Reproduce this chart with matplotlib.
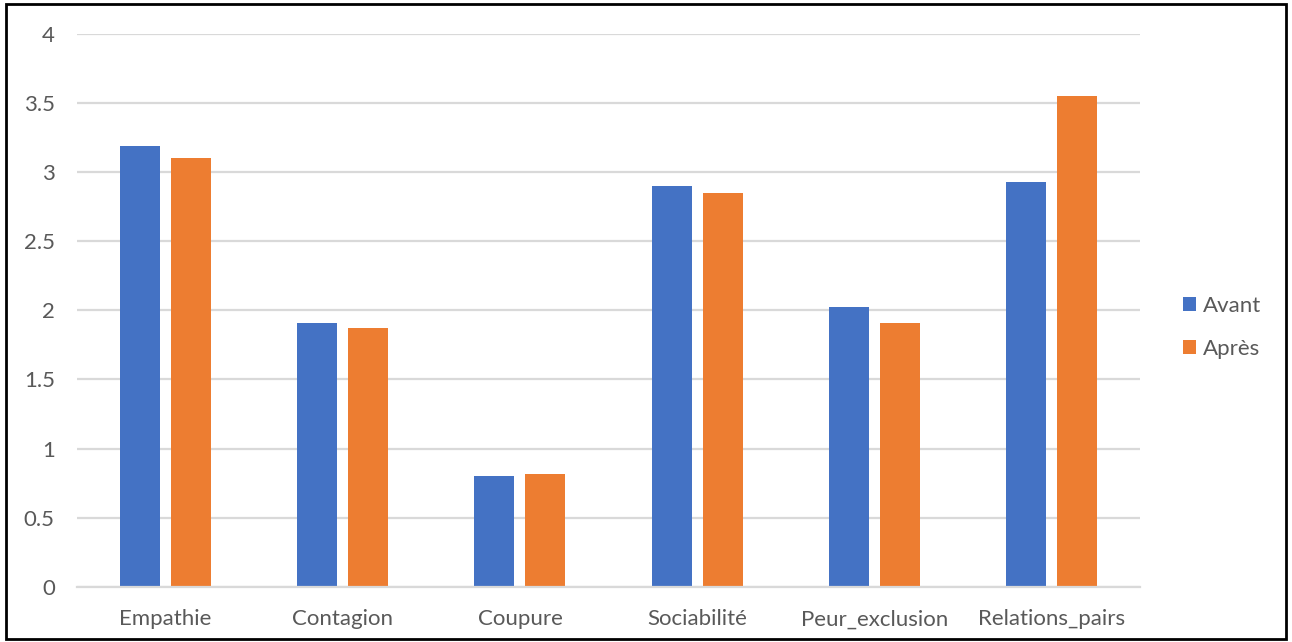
import matplotlib.pyplot as plt
import numpy as np
from matplotlib.patches import Rectangle

categories = ["Empathie", "Contagion", "Coupure", "Sociabilité", "Peur_exclusion", "Relations_pairs"]
avant = [3.19, 1.91, 0.80, 2.90, 2.02, 2.93]
apres = [3.10, 1.87, 0.82, 2.85, 1.91, 3.55]
series_names = ["Avant", "Après"]

blue = "#4472C4"
orange = "#ED7D31"
grey_text = "#595959"
grid_col = "#D9D9D9"

plt.rcParams["font.family"] = ["Lato", "DejaVu Sans"]

fig = plt.figure(figsize=(12.92, 6.42), dpi=100)
ax = fig.add_axes([0.0596, 0.0857, 0.8228, 0.8621])

x = np.arange(len(categories))
w = 0.226
off = 0.144
ax.bar(x - off, avant, width=w, color=blue, label=series_names[0])
ax.bar(x + off, apres, width=w, color=orange, label=series_names[1])

ax.set_xlim(-0.5, len(categories) - 0.5)
ax.set_ylim(0, 4)
ax.set_yticks(np.arange(0, 4.01, 0.5))
ax.set_yticklabels(["0", "0.5", "1", "1.5", "2", "2.5", "3", "3.5", "4"])
ax.set_xticks(x)
ax.set_xticklabels(categories)
ax.tick_params(axis="both", length=0, labelsize=16, colors=grey_text)
ax.tick_params(axis="y", pad=16)
ax.tick_params(axis="x", pad=16)

ax.grid(axis="y", color=grid_col, linewidth=1.6)
ax.set_axisbelow(True)
for side in ["top", "right", "left"]:
    ax.spines[side].set_visible(False)
ax.spines["bottom"].set_color(grid_col)
ax.spines["bottom"].set_linewidth(1.6)

leg = fig.legend(loc="center left", bbox_to_anchor=(0.9, 0.49), frameon=False,
                 fontsize=16, handlelength=0.6, handleheight=0.6,
                 handletextpad=0.3, labelspacing=1.05)
for t in leg.get_texts():
    t.set_color(grey_text)

# outer frame around the whole chart
fig.patches.append(Rectangle((0.005, 0.004), 0.99, 0.99, transform=fig.transFigure,
                             fill=False, edgecolor="black", linewidth=2))

fig.savefig("out.png", dpi=100, facecolor="white")
